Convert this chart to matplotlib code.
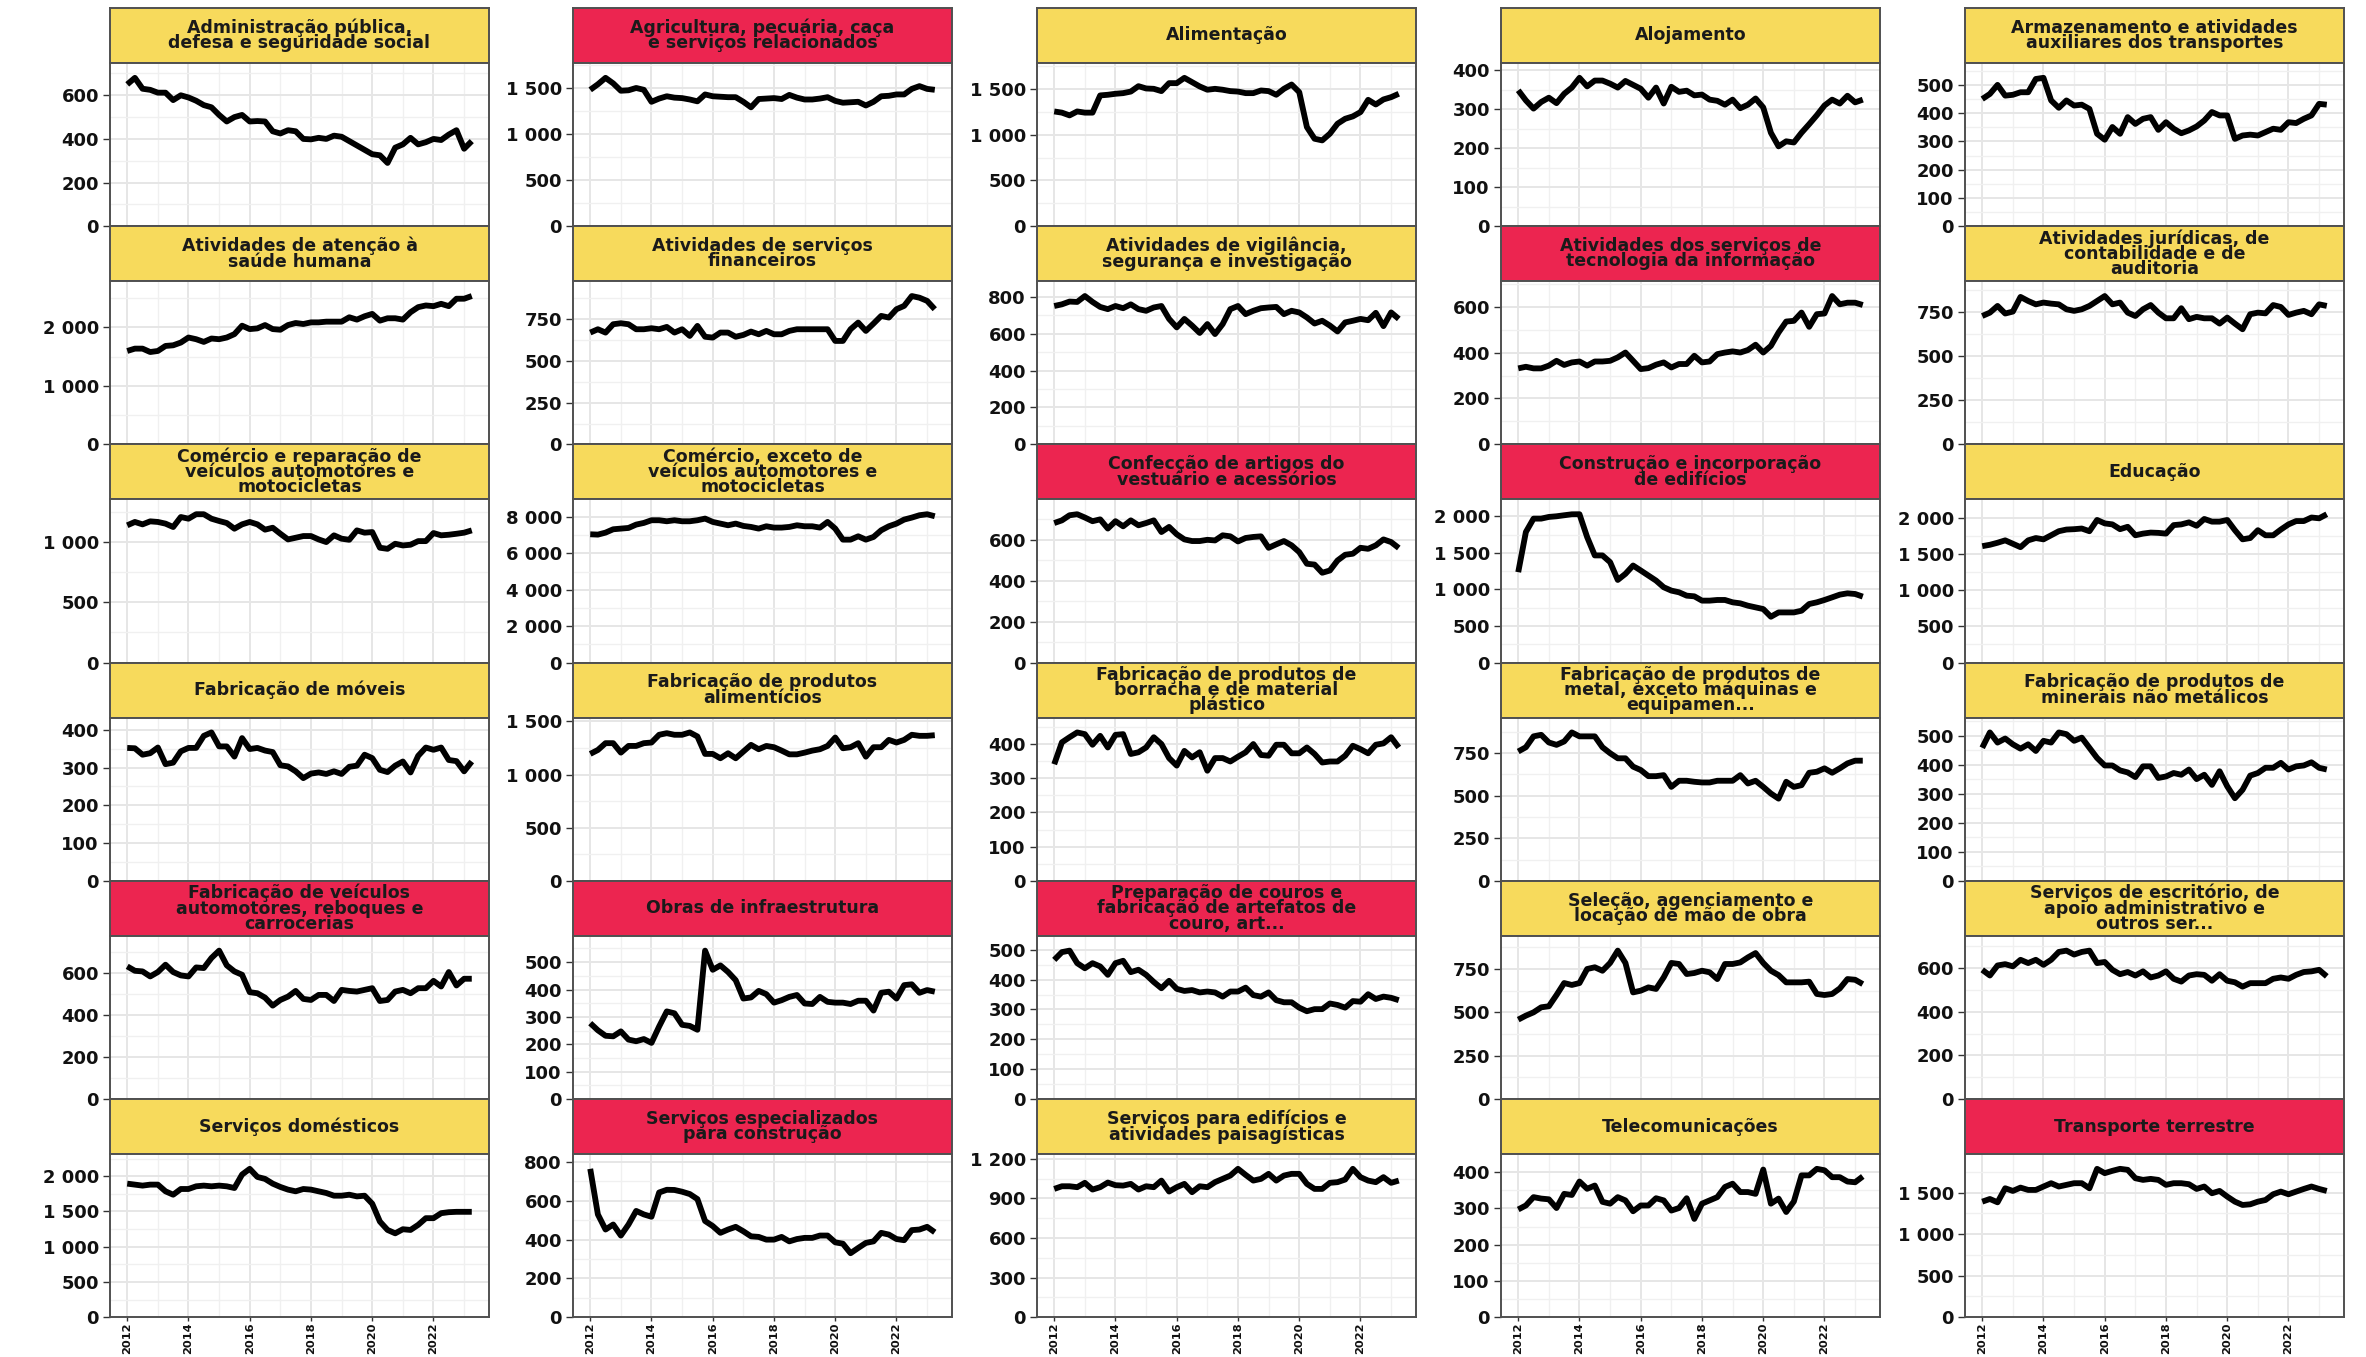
import matplotlib
matplotlib.use('Agg')
import matplotlib.pyplot as plt
import numpy as np
from matplotlib.ticker import MultipleLocator, AutoMinorLocator, FuncFormatter

# trimestres de 2012T1 a 2023T2
trimestres = 2012 + np.arange(46) / 4

adm_publica = [650, 680, 630, 625, 612, 612, 578, 600, 590, 575, 555, 545, 510, 480, 500, 510, 480, 482, 480, 435,
               425, 440, 435, 400, 398, 405, 400, 415, 410, 390, 370, 350, 330, 325, 290, 360, 375, 405, 375, 385,
               400, 395, 420, 440, 355, 390]
agricultura = [1480, 1540, 1610, 1550, 1470, 1475, 1500, 1480, 1350, 1385, 1410, 1395, 1390, 1375, 1355, 1430,
               1410, 1405, 1400, 1400, 1350, 1290, 1380, 1385, 1390, 1380, 1425, 1395, 1375, 1375, 1385, 1400,
               1360, 1340, 1345, 1350, 1310, 1350, 1410, 1415, 1430, 1430, 1490, 1520, 1490, 1480]
alimentacao = [1253, 1240, 1210, 1253, 1240, 1240, 1428, 1435, 1446, 1453, 1470, 1529, 1504, 1500, 1475, 1562,
               1562, 1620, 1573, 1526, 1490, 1500, 1490, 1475, 1470, 1453, 1453, 1482, 1475, 1435, 1500, 1547,
               1464, 1082, 955, 937, 1010, 1119, 1173, 1199, 1246, 1380, 1329, 1384, 1409, 1446]
alojamento = [349, 323, 302, 319, 330, 316, 340, 356, 381, 359, 374, 374, 366, 356, 373, 363, 353, 330, 356, 315,
              358, 345, 348, 336, 338, 325, 322, 312, 325, 303, 312, 328, 305, 240, 205, 218, 215, 240, 262, 285,
              310, 325, 315, 335, 318, 325]
armazenamento = [450, 468, 500, 462, 465, 474, 474, 521, 525, 445, 419, 445, 427, 430, 415, 327, 306, 351, 327, 386,
                 362, 380, 386, 341, 368, 345, 329, 339, 353, 374, 404, 392, 392, 309, 321, 324, 321, 333, 345, 341,
                 368, 365, 380, 392, 433, 430]
saude = [1597, 1637, 1637, 1579, 1597, 1683, 1694, 1741, 1827, 1798, 1752, 1810, 1798, 1827, 1885, 2029, 1971, 1983,
         2040, 1971, 1960, 2040, 2075, 2058, 2086, 2086, 2098, 2098, 2098, 2173, 2133, 2190, 2231, 2115, 2156, 2156,
         2133, 2259, 2346, 2375, 2363, 2403, 2363, 2490, 2490, 2536]
financeiros = [670, 690, 670, 720, 726, 720, 690, 690, 696, 690, 704, 670, 690, 650, 710, 645, 640, 670, 670, 645,
               656, 676, 660, 680, 660, 660, 680, 690, 690, 690, 690, 690, 620, 620, 690, 730, 680, 724, 770, 760,
               810, 830, 889, 879, 860, 810]
vigilancia = [750, 759, 774, 772, 804, 772, 745, 733, 750, 738, 759, 733, 724, 742, 750, 680, 634, 680, 644, 604,
              652, 598, 652, 733, 750, 706, 724, 738, 742, 745, 706, 724, 715, 688, 655, 670, 644, 612, 661, 670,
              680, 673, 713, 641, 715, 680]
tec_informacao = [331, 338, 331, 331, 343, 364, 346, 357, 361, 343, 361, 361, 364, 379, 400, 364, 328, 332, 347, 357,
                  335, 350, 350, 386, 357, 361, 393, 400, 405, 400, 411, 434, 400, 429, 487, 535, 538, 574, 512, 567,
                  570, 646, 610, 617, 617, 607]
juridicas = [727, 746, 784, 741, 752, 835, 812, 793, 803, 797, 793, 765, 756, 765, 784, 812, 840, 793, 803, 746,
             727, 765, 789, 746, 714, 714, 771, 709, 722, 714, 714, 684, 718, 684, 652, 737, 746, 742, 789, 778,
             733, 746, 756, 737, 793, 784]
comercio_veiculos = [1139, 1167, 1147, 1172, 1167, 1153, 1125, 1208, 1194, 1231, 1231, 1194, 1175, 1158, 1111, 1147,
                     1167, 1147, 1103, 1119, 1069, 1022, 1036, 1050, 1050, 1022, 1000, 1056, 1028, 1019, 1097, 1078,
                     1083, 953, 944, 986, 972, 978, 1008, 1008, 1075, 1056, 1061, 1069, 1078, 1097]
comercio_exceto = [7046, 7028, 7138, 7321, 7358, 7394, 7578, 7670, 7817, 7817, 7761, 7817, 7761, 7761, 7817, 7908,
                   7725, 7633, 7541, 7633, 7505, 7450, 7358, 7486, 7413, 7413, 7450, 7541, 7486, 7486, 7413, 7725,
                   7358, 6752, 6752, 6936, 6752, 6899, 7266, 7486, 7633, 7853, 7963, 8092, 8147, 8037]
confeccao = [682, 695, 720, 725, 709, 691, 700, 655, 691, 666, 695, 671, 682, 695, 638, 663, 627, 602, 594, 594,
             600, 597, 622, 617, 592, 609, 614, 617, 561, 578, 594, 573, 540, 483, 479, 439, 450, 499, 527, 532,
             561, 556, 573, 602, 589, 560]
construcao = [1236, 1785, 1968, 1968, 1991, 2000, 2014, 2027, 2028, 1716, 1465, 1465, 1373, 1130, 1213, 1327, 1259,
              1190, 1121, 1030, 984, 961, 915, 906, 847, 847, 856, 856, 824, 810, 778, 755, 732, 627, 686, 686,
              686, 709, 801, 824, 856, 892, 929, 947, 938, 902]
educacao = [1605, 1624, 1652, 1685, 1638, 1591, 1685, 1717, 1699, 1755, 1811, 1834, 1839, 1848, 1811, 1966, 1919,
            1905, 1839, 1872, 1755, 1778, 1792, 1788, 1778, 1895, 1905, 1933, 1886, 1980, 1943, 1943, 1966, 1825,
            1699, 1717, 1825, 1755, 1755, 1834, 1905, 1951, 1951, 2000, 1989, 2045]
moveis = [352, 351, 334, 338, 353, 309, 313, 343, 352, 352, 384, 393, 356, 356, 329, 378, 349, 352, 345, 341,
          306, 303, 290, 272, 284, 287, 283, 290, 283, 302, 305, 334, 325, 294, 288, 305, 316, 287, 331, 353,
          347, 353, 320, 317, 290, 316]
alimenticios = [1194, 1231, 1295, 1295, 1206, 1269, 1269, 1295, 1301, 1374, 1389, 1374, 1374, 1396, 1358, 1194,
                1194, 1153, 1200, 1153, 1216, 1279, 1238, 1269, 1257, 1225, 1190, 1190, 1206, 1225, 1238, 1269,
                1348, 1247, 1257, 1295, 1168, 1257, 1257, 1326, 1301, 1326, 1374, 1364, 1364, 1370]
borracha = [341, 405, 420, 434, 429, 398, 424, 390, 427, 429, 371, 376, 390, 420, 400, 359, 337, 380, 361, 376,
            322, 359, 359, 349, 363, 376, 400, 368, 366, 398, 398, 373, 373, 390, 371, 346, 349, 349, 366, 395,
            385, 373, 398, 402, 420, 390]
metal = [760, 785, 849, 858, 813, 799, 819, 872, 849, 849, 849, 785, 750, 720, 720, 671, 651, 615, 615, 621,
         552, 588, 588, 582, 578, 578, 588, 588, 588, 621, 572, 588, 552, 513, 483, 582, 552, 562, 635, 641,
         661, 635, 661, 690, 706, 706]
minerais = [459, 512, 477, 491, 471, 456, 471, 448, 483, 477, 512, 506, 483, 494, 459, 424, 398, 398, 381, 374,
            358, 395, 395, 355, 360, 372, 366, 384, 351, 366, 331, 378, 326, 285, 314, 363, 372, 390, 390, 407,
            384, 395, 398, 409, 390, 384]
veiculos = [632, 611, 608, 584, 605, 640, 605, 589, 584, 627, 624, 672, 707, 637, 608, 592, 509, 504, 483, 445,
            472, 488, 515, 477, 472, 496, 496, 467, 520, 515, 512, 520, 528, 467, 472, 512, 520, 504, 528, 528,
            563, 536, 605, 541, 573, 573]
infraestrutura = [277, 251, 231, 229, 247, 217, 211, 219, 205, 265, 320, 313, 271, 267, 253, 542, 472, 488, 464, 434,
                  367, 371, 395, 383, 352, 361, 373, 380, 349, 347, 373, 355, 352, 352, 347, 359, 359, 323, 388, 392,
                  367, 416, 419, 388, 398, 392]
couros = [466, 492, 497, 455, 438, 455, 444, 416, 455, 463, 425, 433, 416, 392, 371, 396, 369, 362, 365, 357,
          360, 357, 343, 360, 360, 373, 348, 343, 357, 331, 324, 324, 306, 294, 301, 301, 320, 315, 306, 328,
          326, 351, 335, 343, 339, 331]
selecao = [458, 481, 500, 529, 535, 600, 669, 658, 669, 750, 760, 740, 785, 856, 785, 615, 625, 644, 635, 702,
           785, 779, 721, 727, 740, 731, 692, 779, 779, 788, 817, 842, 785, 740, 715, 673, 673, 673, 677, 606,
           600, 606, 638, 692, 688, 663]
escritorio = [592, 566, 612, 618, 608, 638, 623, 638, 615, 638, 674, 680, 662, 674, 680, 623, 628, 592, 572, 582,
              566, 585, 557, 566, 585, 551, 538, 566, 572, 569, 542, 572, 542, 535, 515, 531, 531, 531, 551, 557,
              551, 569, 582, 585, 592, 562]
domesticos = [1895, 1881, 1867, 1881, 1881, 1786, 1738, 1819, 1819, 1857, 1867, 1857, 1867, 1857, 1833, 2024, 2105,
              1990, 1962, 1895, 1848, 1810, 1786, 1819, 1810, 1786, 1762, 1724, 1724, 1738, 1714, 1724, 1610, 1357,
              1238, 1190, 1248, 1238, 1310, 1405, 1405, 1476, 1490, 1495, 1495, 1495]
especializados = [765, 530, 452, 478, 421, 478, 548, 530, 518, 643, 657, 656, 647, 635, 609, 496, 470, 435, 452, 466,
                  443, 417, 414, 400, 400, 414, 391, 403, 409, 409, 421, 421, 386, 379, 330, 357, 383, 391, 435, 426,
                  403, 397, 449, 452, 466, 438]
edificios = [972, 992, 992, 985, 1018, 967, 985, 1020, 1000, 997, 1010, 967, 992, 985, 1035, 952, 985, 1010, 947, 992,
             985, 1023, 1048, 1073, 1124, 1078, 1035, 1048, 1086, 1035, 1073, 1086, 1086, 1010, 972, 972, 1018, 1023,
             1043, 1124, 1061, 1035, 1023, 1061, 1018, 1035]
telecom = [297, 308, 331, 327, 325, 301, 340, 337, 374, 354, 363, 318, 313, 331, 322, 292, 308, 308, 328, 322,
           294, 301, 328, 271, 313, 322, 331, 359, 368, 345, 345, 340, 407, 313, 327, 290, 319, 391, 391, 409,
           405, 386, 386, 374, 372, 388]
transporte = [1391, 1423, 1383, 1552, 1520, 1560, 1532, 1532, 1573, 1613, 1573, 1593, 1613, 1613, 1552, 1786, 1734,
              1762, 1786, 1774, 1673, 1653, 1665, 1653, 1593, 1613, 1613, 1601, 1544, 1573, 1492, 1520, 1452, 1391,
              1351, 1359, 1391, 1411, 1480, 1512, 1480, 1512, 1544, 1573, 1544, 1520]

setores = [
    'Administração pública,\ndefesa e seguridade social',
    'Agricultura, pecuária, caça\ne serviços relacionados',
    'Alimentação',
    'Alojamento',
    'Armazenamento e atividades\nauxiliares dos transportes',
    'Atividades de atenção à\nsaúde humana',
    'Atividades de serviços\nfinanceiros',
    'Atividades de vigilância,\nsegurança e investigação',
    'Atividades dos serviços de\ntecnologia da informação',
    'Atividades jurídicas, de\ncontabilidade e de\nauditoria',
    'Comércio e reparação de\nveículos automotores e\nmotocicletas',
    'Comércio, exceto de\nveículos automotores e\nmotocicletas',
    'Confecção de artigos do\nvestuário e acessórios',
    'Construção e incorporação\nde edifícios',
    'Educação',
    'Fabricação de móveis',
    'Fabricação de produtos\nalimentícios',
    'Fabricação de produtos de\nborracha e de material\nplástico',
    'Fabricação de produtos de\nmetal, exceto máquinas e\nequipamen...',
    'Fabricação de produtos de\nminerais não metálicos',
    'Fabricação de veículos\nautomotores, reboques e\ncarrocerias',
    'Obras de infraestrutura',
    'Preparação de couros e\nfabricação de artefatos de\ncouro, art...',
    'Seleção, agenciamento e\nlocação de mão de obra',
    'Serviços de escritório, de\napoio administrativo e\noutros ser...',
    'Serviços domésticos',
    'Serviços especializados\npara construção',
    'Serviços para edifícios e\natividades paisagísticas',
    'Telecomunicações',
    'Transporte terrestre',
]

series = [adm_publica, agricultura, alimentacao, alojamento, armazenamento,
          saude, financeiros, vigilancia, tec_informacao, juridicas,
          comercio_veiculos, comercio_exceto, confeccao, construcao, educacao,
          moveis, alimenticios, borracha, metal, minerais,
          veiculos, infraestrutura, couros, selecao, escritorio,
          domesticos, especializados, edificios, telecom, transporte]

# setores em destaque (faixa vermelha)
em_queda = [False, True, False, False, False,
            False, False, False, True, False,
            False, False, True, True, False,
            False, False, False, False, False,
            True, True, True, False, False,
            False, True, False, False, True]

# intervalo entre marcas do eixo y em cada painel
passos = [200, 500, 500, 100, 100,
          1000, 250, 200, 200, 250,
          500, 2000, 200, 500, 500,
          100, 500, 100, 250, 100,
          200, 100, 100, 250, 200,
          500, 200, 300, 100, 500]

AMARELO = '#F7DA5C'
VERMELHO = '#EC2550'
BORDA = '#505050'

plt.rcParams['font.family'] = 'DejaVu Sans'
plt.rcParams['font.weight'] = 'bold'

W, H = 2366, 1357
fig = plt.figure(figsize=(W / 100, H / 100), dpi=100)
fig.patch.set_facecolor('white')

col_left = [110, 573, 1037, 1501, 1965]
panel_w = 379
row_h = 218.2
strip_h = 55

fmt = FuncFormatter(lambda v, p: f'{int(round(v)):,}'.replace(',', ' '))
span = trimestres[-1] - trimestres[0]
xlim = (trimestres[0] - 0.05 * span, trimestres[-1] + 0.05 * span)

for i, (nome, vals, destaque, passo) in enumerate(zip(setores, series, em_queda, passos)):
    r, c = divmod(i, 5)
    top = 8 + r * row_h

    # faixa com o nome do setor
    sax = fig.add_axes([col_left[c] / W, 1 - (top + strip_h) / H, panel_w / W, strip_h / H])
    sax.set_facecolor(VERMELHO if destaque else AMARELO)
    sax.set_xticks([])
    sax.set_yticks([])
    for sp in sax.spines.values():
        sp.set_color(BORDA)
        sp.set_linewidth(1.4)
    sax.text(0.5, 0.5, nome, ha='center', va='center', fontsize=12.5, fontweight='bold',
             color='#1a1a1a', linespacing=0.8, transform=sax.transAxes)

    # painel
    ax = fig.add_axes([col_left[c] / W, 1 - (top + row_h) / H, panel_w / W, (row_h - strip_h) / H])
    ax.plot(trimestres, vals, color='black', lw=4.2, solid_joinstyle='round', solid_capstyle='butt')
    ax.set_xlim(*xlim)
    ax.set_ylim(0, max(vals) * 1.1)

    ax.xaxis.set_major_locator(MultipleLocator(2))
    ax.xaxis.set_minor_locator(MultipleLocator(1))
    ax.yaxis.set_major_locator(MultipleLocator(passo))
    ax.yaxis.set_minor_locator(AutoMinorLocator(2))
    ax.yaxis.set_major_formatter(fmt)
    ax.xaxis.set_major_formatter(FuncFormatter(lambda v, p: f'{int(round(v))}'))

    ax.set_axisbelow(True)
    ax.grid(which='major', color='#E6E6E6', lw=1.4)
    ax.grid(which='minor', color='#F0F0F0', lw=1.0)

    for sp in ax.spines.values():
        sp.set_color(BORDA)
        sp.set_linewidth(1.4)

    ax.tick_params(axis='y', which='major', length=5, width=1, color='#333333',
                   labelsize=13, labelcolor='#111111', pad=3)
    ax.tick_params(axis='y', which='minor', length=0)
    ax.tick_params(axis='x', which='minor', length=0)
    if r == 5:
        ax.tick_params(axis='x', which='major', length=3, width=1, color='#333333',
                       labelsize=8.2, labelcolor='#111111', labelrotation=90, pad=1)
    else:
        ax.tick_params(axis='x', which='major', length=0, labelbottom=False)

fig.savefig('out.png', dpi=100, facecolor='white')
